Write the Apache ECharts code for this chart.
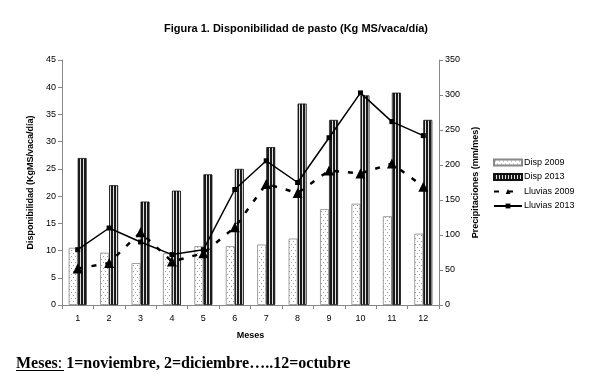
<!DOCTYPE html>
<html><head><meta charset="utf-8">
<script src="https://cdn.jsdelivr.net/npm/echarts@6/dist/echarts.min.js"></script>
<style>html,body{margin:0;padding:0;background:#fff}#c{width:590px;height:381px}</style>
</head><body><div id="c"></div>
<script>
const categories = ['1','2','3','4','5','6','7','8','9','10','11','12'];
const disp2009 = [10.5, 9.6, 7.7, 9.5, 10.8, 10.8, 11.1, 12.2, 17.6, 18.6, 16.3, 13.1];
const disp2013 = [27, 22, 19, 21, 24, 25, 29, 37, 34, 38.5, 39, 34];
const lluvias2009 = [52, 60, 104, 62, 74, 111, 173, 160, 192, 188, 202, 169];
const lluvias2013 = [79, 110, 90, 72, 79, 165, 206, 175, 239, 303, 262, 242];
const leftTicks = {min: 0, max: 45, interval: 5};
const rightTicks = {min: 0, max: 350, interval: 50};

function pattern(w, h, draw) {
  const c = document.createElement('canvas');
  c.width = w; c.height = h;
  const g = c.getContext('2d');
  draw(g);
  return {image: c, repeat: 'repeat'};
}
const dots = pattern(4, 6, g => {
  g.fillStyle = '#fff'; g.fillRect(0, 0, 4, 6);
  g.fillStyle = '#9a9a9a'; g.fillRect(1, 1, 1, 1); g.fillRect(3, 4, 1, 1);
});
const stripes = pattern(3, 4, g => {
  g.fillStyle = '#1a1a1a'; g.fillRect(0, 0, 3, 4);
  g.fillStyle = '#e0e0e0'; g.fillRect(2, 0, 1, 4);
});

const font = 'Liberation Sans';
const chart = echarts.init(document.getElementById('c'), null, {renderer: 'canvas'});
chart.setOption({
  animation: false,
  textStyle: {fontFamily: font},
  title: {
    text: 'Figura 1. Disponibilidad de pasto (Kg MS/vaca/día)',
    left: 291, top: 18, textAlign: 'center',
    textStyle: {fontSize: 11, fontWeight: 'bold', color: '#000', fontFamily: font}
  },
  grid: {left: 62, right: 151, top: 60, bottom: 76},
  legend: {
    orient: 'vertical', left: 488, top: 153, itemWidth: 28, itemHeight: 6, itemGap: 5.5,
    textStyle: {fontSize: 9, color: '#000', fontFamily: font, padding: [0, 0, 0, -3]},
    data: [{name: 'Disp 2009', icon: 'rect'}, {name: 'Disp 2013', icon: 'rect'}, 'Lluvias 2009', 'Lluvias 2013']
  },
  xAxis: {
    type: 'category', data: categories, boundaryGap: true,
    name: 'Meses', nameLocation: 'middle', nameGap: 26,
    nameTextStyle: {fontSize: 9, fontWeight: 'bold', color: '#000'},
    axisLine: {lineStyle: {color: '#888'}},
    axisTick: {show: true, length: 4, lineStyle: {color: '#888'}},
    axisLabel: {fontSize: 9, color: '#000', margin: 9}
  },
  yAxis: [{
    type: 'value', min: leftTicks.min, max: leftTicks.max, interval: leftTicks.interval,
    name: 'Disponibilidad (KgMS/vaca/día)', nameLocation: 'middle', nameGap: 21,
    nameTextStyle: {fontSize: 9, fontWeight: 'bold', color: '#000'},
    axisLine: {show: true, lineStyle: {color: '#888'}},
    axisTick: {show: true, length: 4, lineStyle: {color: '#888'}},
    axisLabel: {fontSize: 9, color: '#000', margin: 6},
    splitLine: {show: false}
  }, {
    type: 'value', min: rightTicks.min, max: rightTicks.max, interval: rightTicks.interval,
    name: 'Precipitaciones (mm/mes)', nameLocation: 'middle', nameGap: 23,
    nameTextStyle: {fontSize: 9, fontWeight: 'bold', color: '#000'},
    axisLine: {show: true, lineStyle: {color: '#888'}},
    axisTick: {show: true, length: 4, lineStyle: {color: '#888'}},
    axisLabel: {fontSize: 9, color: '#000', margin: 6},
    splitLine: {show: false}
  }],
  series: [{
    name: 'Disp 2009', type: 'bar', yAxisIndex: 0, data: disp2009,
    barWidth: 9, barGap: '0%',
    itemStyle: {color: dots, borderColor: '#888', borderWidth: 0.8}
  }, {
    name: 'Disp 2013', type: 'bar', yAxisIndex: 0, data: disp2013,
    barWidth: 9, barGap: '0%',
    itemStyle: {color: stripes, borderColor: '#111', borderWidth: 0.8}
  }, {
    name: 'Lluvias 2009', type: 'line', yAxisIndex: 1, data: lluvias2009,
    symbol: 'triangle', symbolSize: 10,
    lineStyle: {color: '#000', width: 2.5, type: [5, 9]},
    itemStyle: {color: '#000'}
  }, {
    name: 'Lluvias 2013', type: 'line', yAxisIndex: 1, data: lluvias2013,
    symbol: 'rect', symbolSize: 5,
    lineStyle: {color: '#000', width: 1.5},
    itemStyle: {color: '#000'}
  }],
  graphic: [{
    type: 'text', left: 16, top: 356,
    style: {
      text: '{u|Meses}{n|: }{b|1=noviembre, 2=diciembre…..12=octubre}',
      rich: {
        u: {fontFamily: 'Liberation Serif', fontSize: 16, fontWeight: 'bold', fill: '#000'},
        n: {fontFamily: 'Liberation Serif', fontSize: 16, fill: '#000'},
        b: {fontFamily: 'Liberation Serif', fontSize: 16, fontWeight: 'bold', fill: '#000'}
      }
    }
  }, {
    type: 'line', shape: {x1: 16, y1: 370.5, x2: 64, y2: 370.5},
    style: {stroke: '#000', lineWidth: 1}
  }]
});
</script></body></html>
